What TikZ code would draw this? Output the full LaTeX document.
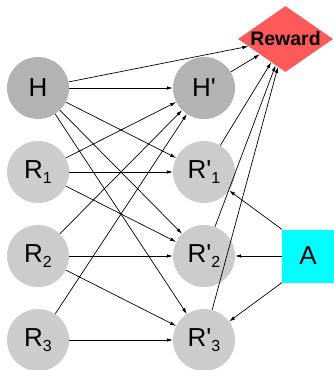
\documentclass[tikz,border=0pt]{standalone}
\usepackage{fontspec}
\setmainfont{Liberation Sans}[Ligatures=TeXOff]
\usetikzlibrary{shapes.geometric,arrows.meta}
\definecolor{hgray}{HTML}{B3B3B3}
\definecolor{rgray}{HTML}{CCCCCC}
\definecolor{rewardred}{HTML}{FF5A5A}
\definecolor{acyan}{HTML}{00FFFF}
\newcommand\subn[1]{\raisebox{-5.5pt}{\fontsize{16}{16}\selectfont #1}}
\begin{document}
\begin{tikzpicture}[x=1pt,y=-1pt,
  hnode/.style={circle,fill=hgray,minimum size=62pt,inner sep=0pt,font=\fontsize{26}{26}\selectfont},
  rnode/.style={circle,fill=rgray,minimum size=62pt,inner sep=0pt,font=\fontsize{26}{26}\selectfont},
  rewardnode/.style={diamond,aspect=1.44,fill=rewardred,minimum width=95pt,minimum height=66pt,inner sep=0pt,font=\fontsize{19.5}{19.5}\selectfont\bfseries},
  anode/.style={rectangle,fill=acyan,minimum width=52pt,minimum height=53pt,inner sep=0pt,font=\fontsize{26}{26}\selectfont},
  edge/.style={-{Latex[length=6pt,width=3.6pt]},line width=0.7pt}]
\useasboundingbox (0,0) rectangle (334,370);
\node[hnode] (H) at (38,88) {H};
\node[rnode] (R1) at (38,172) {R\subn{1}};
\node[rnode] (R2) at (38,256) {R\subn{2}};
\node[rnode] (R3) at (38,340) {R\subn{3}};
\node[hnode] (Hp) at (204,88) {H'};
\node[rnode] (R1p) at (204,172) {R'\subn{1}};
\node[rnode] (R2p) at (204,256) {R'\subn{2}};
\node[rnode] (R3p) at (204,340) {R'\subn{3}};
\node[rewardnode] (Rw) at (285.5,39) {Reward};
\node[anode] (A) at (308,256) {A};
% from H
\draw[edge] (H) -- (Rw);
\draw[edge] (H) -- (Hp);
\draw[edge] (H) -- (R1p);
\draw[edge] (H) -- (R2p);
\draw[edge] (H) -- (R3p);
% from R1
\draw[edge] (R1) -- (Hp);
\draw[edge] (R1) -- (R1p);
\draw[edge] (R1) -- (R2p);
% from R2
\draw[edge] (R2) -- (Hp);
\draw[edge] (R2) -- (R2p);
\draw[edge] (R2) -- (R3p);
% from R3
\draw[edge] (R3) -- (Hp);
\draw[edge] (R3) -- (R3p);
% to reward
\draw[edge] (Hp) -- (Rw);
\draw[edge] (R1p) -- (Rw);
\draw[edge] (R2p) -- (Rw);
\draw[edge] (R3p) -- (Rw);
% from A
\draw[edge] (A.north west) -- (R1p);
\draw[edge] (A.west) -- (R2p);
\draw[edge] (A.south west) -- (R3p);
\end{tikzpicture}
\end{document}
